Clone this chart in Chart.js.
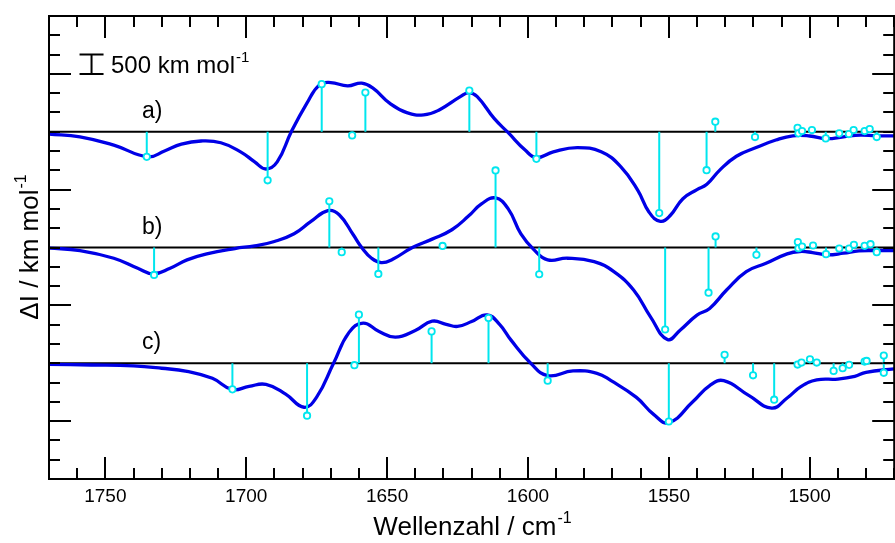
<!DOCTYPE html>
<html>
<head>
<meta charset="utf-8">
<script src="https://cdn.jsdelivr.net/npm/chart.js@4.4.1/dist/chart.umd.min.js"></script>
<style>
  html, body { margin: 0; padding: 0; background: #fff; overflow: hidden; }
  #wrap { width: 900px; height: 543px; }
</style>
</head>
<body>
<div id="wrap"><canvas id="ir" width="900" height="543"></canvas></div>
<script>
// IR difference spectra a) b) c) — broadened curve + stick spectrum, stacked with offsets
const offsets = [7500, 4500, 1500]
const labels = ['a)', 'b)', 'c)']

// a) broadened spectrum
const aWn = [1770, 1759, 1747, 1735, 1729, 1723, 1716, 1709, 1702, 1697, 1693, 1689, 1684, 1678.5, 1674, 1670, 1664, 1659, 1655, 1649, 1643, 1637, 1631.5, 1624, 1621, 1618, 1612, 1607, 1601, 1597, 1591, 1582.5, 1574, 1567, 1561, 1557, 1553, 1549.5, 1545, 1540, 1536.5, 1532, 1526, 1519, 1512, 1506, 1500, 1494, 1488, 1482, 1476.5, 1470]
const aI = [-60, -130, -345, -650, -500, -320, -240, -285, -520, -780, -965, -780, 0, 735, 1215, 1275, 1190, 1260, 1130, 735, 495, 435, 565, 910, 1015, 910, 345, -25, -475, -670, -520, -410, -520, -910, -1520, -2085, -2320, -2170, -1735, -1500, -1360, -1000, -635, -410, -215, -105, -110, -180, -130, -85, -105, -105]
// a) sticks
const aStickWn = [1735.3, 1692.4, 1673.2, 1662.4, 1657.7, 1620.8, 1597, 1553.4, 1536.6, 1533.5, 1519.4, 1504.3, 1504, 1502.7, 1499.2, 1494.3, 1489.5, 1486.1, 1484.4, 1480.5, 1478.7, 1476.2]
const aStickI = [-650, -1258, 1234, -94, 1016, 1068, -703, -2109, -997, 260, -138, 104, -42, 20, 44, -172, -42, -60, 44, 18, 70, -138]

// b) broadened spectrum
const bWn = [1770, 1759, 1747, 1738.5, 1733, 1727, 1721, 1714, 1704, 1697, 1690, 1683, 1677, 1671, 1667, 1662, 1659, 1655.5, 1652, 1648, 1641, 1634, 1627, 1621, 1616.5, 1611.5, 1607, 1602.5, 1598, 1593, 1586, 1576.5, 1569.5, 1562.5, 1556.5, 1550.5, 1546, 1540, 1535.5, 1529.5, 1522.5, 1515.5, 1508, 1503.5, 1499, 1494, 1488, 1482.5, 1476.5, 1470]
const bI = [-15, -78, -278, -538, -685, -538, -321, -165, -26, 44, 156, 356, 677, 955, 850, 330, 0, -278, -390, -304, 0, 217, 460, 820, 1130, 1284, 1000, 350, -50, -321, -278, -365, -625, -1102, -1797, -2385, -2143, -1753, -1578, -1102, -625, -409, -165, -104, -130, -190, -148, -87, -78, -78]
// b) sticks
const bStickWn = [1732.7, 1670.5, 1666.1, 1653.1, 1630.3, 1611.5, 1596, 1551.3, 1535.9, 1533.4, 1518.9, 1504.2, 1504, 1502.7, 1498.8, 1494.2, 1489.5, 1486, 1484.3, 1480.5, 1478.4, 1476.2]
const bStickI = [-711, 1198, -120, -685, 40, 1997, -693, -2125, -1172, 286, -190, 140, -20, 26, 52, -172, -26, -26, 70, 44, 86, -120]

// c) broadened spectrum
const cWn = [1770, 1755, 1740, 1730, 1721, 1712, 1705, 1699, 1693, 1686, 1679.5, 1675, 1669, 1663.5, 1658.5, 1653, 1647, 1640, 1634, 1629, 1625, 1620, 1614.5, 1610, 1606, 1599, 1593, 1584, 1575.5, 1570.5, 1561.5, 1555.5, 1550, 1541.5, 1535.5, 1530.5, 1521.5, 1513.5, 1508, 1503, 1497.5, 1490, 1484, 1480, 1470]
const cI = [-30, -45, -70, -130, -210, -390, -680, -600, -547, -800, -1140, -880, 0, 800, 1042, 830, 677, 850, 1090, 1010, 955, 1080, 1255, 1000, 600, 0, -321, -200, -260, -451, -885, -1318, -1540, -1000, -581, -451, -840, -1162, -900, -600, -432, -410, -340, -234, -146]
// c) sticks
const cStickWn = [1704.9, 1678.4, 1661.6, 1660, 1634.2, 1614, 1593, 1550, 1530.2, 1520.1, 1512.6, 1504.3, 1502.9, 1499.9, 1497.5, 1491.5, 1488.3, 1486, 1480.5, 1479.8, 1473.7, 1473.7]
const cStickI = [-677, -1360, -50, 1260, 825, 1172, -451, -1510, 219, -312, -945, -34, 18, 104, 18, -198, -130, -42, 44, 60, 200, -247]

const xTickLabels = [1750, 1700, 1650, 1600, 1550, 1500]

const FONT = "'Liberation Sans', Arial, Helvetica, sans-serif"
const BLUE = '#0000e6'
const CYAN = '#00e6ee'

const spectra = [
  { wn: aWn, val: aI, sWn: aStickWn, sVal: aStickI },
  { wn: bWn, val: bI, sWn: bStickWn, sVal: bStickI },
  { wn: cWn, val: cI, sWn: cStickWn, sVal: cStickI },
]

const datasets = []
spectra.forEach((s, i) => {
  const off = offsets[i]
  // zero line
  datasets.push({
    data: [{ x: 1770, y: off }, { x: 1470, y: off }],
    borderColor: '#000', borderWidth: 2, pointRadius: 0, order: 4,
  })
  // broadened curve
  datasets.push({
    data: s.wn.map((w, k) => ({ x: w, y: off + s.val[k] })),
    borderColor: BLUE, borderWidth: 3.3, pointRadius: 0,
    tension: 0.45, borderCapStyle: 'round', borderJoinStyle: 'round', order: 3,
  })
  // sticks (gaps between each)
  const sticks = []
  s.sWn.forEach((w, k) => {
    sticks.push({ x: w, y: off }, { x: w, y: off + s.sVal[k] }, { x: w, y: null })
  })
  datasets.push({
    data: sticks, borderColor: CYAN, borderWidth: 2, pointRadius: 0,
    spanGaps: false, order: 2,
  })
  // stick tips
  datasets.push({
    data: s.sWn.map((w, k) => ({ x: w, y: off + s.sVal[k] })),
    showLine: false, pointRadius: 3.2, pointBorderWidth: 1.8,
    pointBorderColor: CYAN, pointBackgroundColor: '#fff', order: 1,
  })
})

function supText(ctx, main, sup, x, y, size, supSize, align) {
  ctx.font = size + 'px ' + FONT
  const w1 = ctx.measureText(main).width
  ctx.font = supSize + 'px ' + FONT
  const w2 = ctx.measureText(sup).width
  let x0 = x
  if (align === 'center') x0 = x - (w1 + w2) / 2
  ctx.textAlign = 'left'
  ctx.textBaseline = 'alphabetic'
  ctx.font = size + 'px ' + FONT
  ctx.fillText(main, x0, y)
  ctx.font = supSize + 'px ' + FONT
  ctx.fillText(sup, x0 + w1 + 1, y - size * 0.45)
}

const decor = {
  id: 'decor',
  afterDraw(chart) {
    const { ctx, chartArea: ca, scales: { x, y } } = chart
    ctx.save()
    ctx.strokeStyle = '#000'
    ctx.fillStyle = '#000'
    ctx.lineWidth = 2
    ctx.strokeRect(ca.left, ca.top, ca.right - ca.left, ca.bottom - ca.top)

    ctx.beginPath()
    for (let v = 1470; v <= 1770; v += 10) {
      const px = Math.round(x.getPixelForValue(v))
      const len = v % 50 === 0 ? 22 : 11
      ctx.moveTo(px, ca.bottom); ctx.lineTo(px, ca.bottom - len)
      ctx.moveTo(px, ca.top); ctx.lineTo(px, ca.top + len)
    }
    for (let v = -1500; v <= 10500; v += 500) {
      const py = Math.round(y.getPixelForValue(v))
      const len = v % 3000 === 0 ? 22 : 11
      ctx.moveTo(ca.left, py); ctx.lineTo(ca.left + len, py)
      ctx.moveTo(ca.right, py); ctx.lineTo(ca.right - len, py)
    }
    ctx.stroke()

    // x tick labels
    ctx.font = '19px ' + FONT
    ctx.textAlign = 'center'
    ctx.textBaseline = 'top'
    xTickLabels.forEach((v) => ctx.fillText(String(v), x.getPixelForValue(v), ca.bottom + 8))

    // axis titles
    supText(ctx, 'Wellenzahl / cm', '-1', (ca.left + 895) / 2, 535, 26, 16, 'center')
    ctx.save()
    ctx.translate(38, (ca.top + ca.bottom) / 2)
    ctx.rotate(-Math.PI / 2)
    supText(ctx, '\u0394I / km mol', '-1', 0, 0, 26, 16, 'center')
    ctx.restore()

    // panel labels
    ctx.font = '23px ' + FONT
    ctx.textAlign = 'left'
    ctx.textBaseline = 'alphabetic'
    labels.forEach((t, i) => ctx.fillText(t, 142, y.getPixelForValue(offsets[i]) - 14))

    // 500 km/mol scale bar
    const bx = x.getPixelForValue(1754.9)
    const y0 = y.getPixelForValue(9000), y1 = y.getPixelForValue(9500)
    ctx.beginPath()
    ctx.moveTo(bx - 12, y0); ctx.lineTo(bx + 12, y0)
    ctx.moveTo(bx - 12, y1); ctx.lineTo(bx + 12, y1)
    ctx.moveTo(bx, y0); ctx.lineTo(bx, y1)
    ctx.stroke()
    supText(ctx, '500 km mol', '-1', 111, y0 - 1, 24, 15, 'left')
    ctx.restore()
  },
}

new Chart(document.getElementById('ir'), {
  type: 'line',
  data: { datasets },
  options: {
    responsive: false,
    animation: false,
    devicePixelRatio: 1,
    layout: { padding: { left: 49, right: 1.4, top: 16, bottom: 64 } },
    plugins: { legend: { display: false }, tooltip: { enabled: false } },
    scales: {
      x: { type: 'linear', reverse: true, min: 1470, max: 1770, display: false },
      y: { type: 'linear', min: -1500, max: 10500, display: false },
    },
  },
  plugins: [decor],
})
</script>
</body>
</html>
